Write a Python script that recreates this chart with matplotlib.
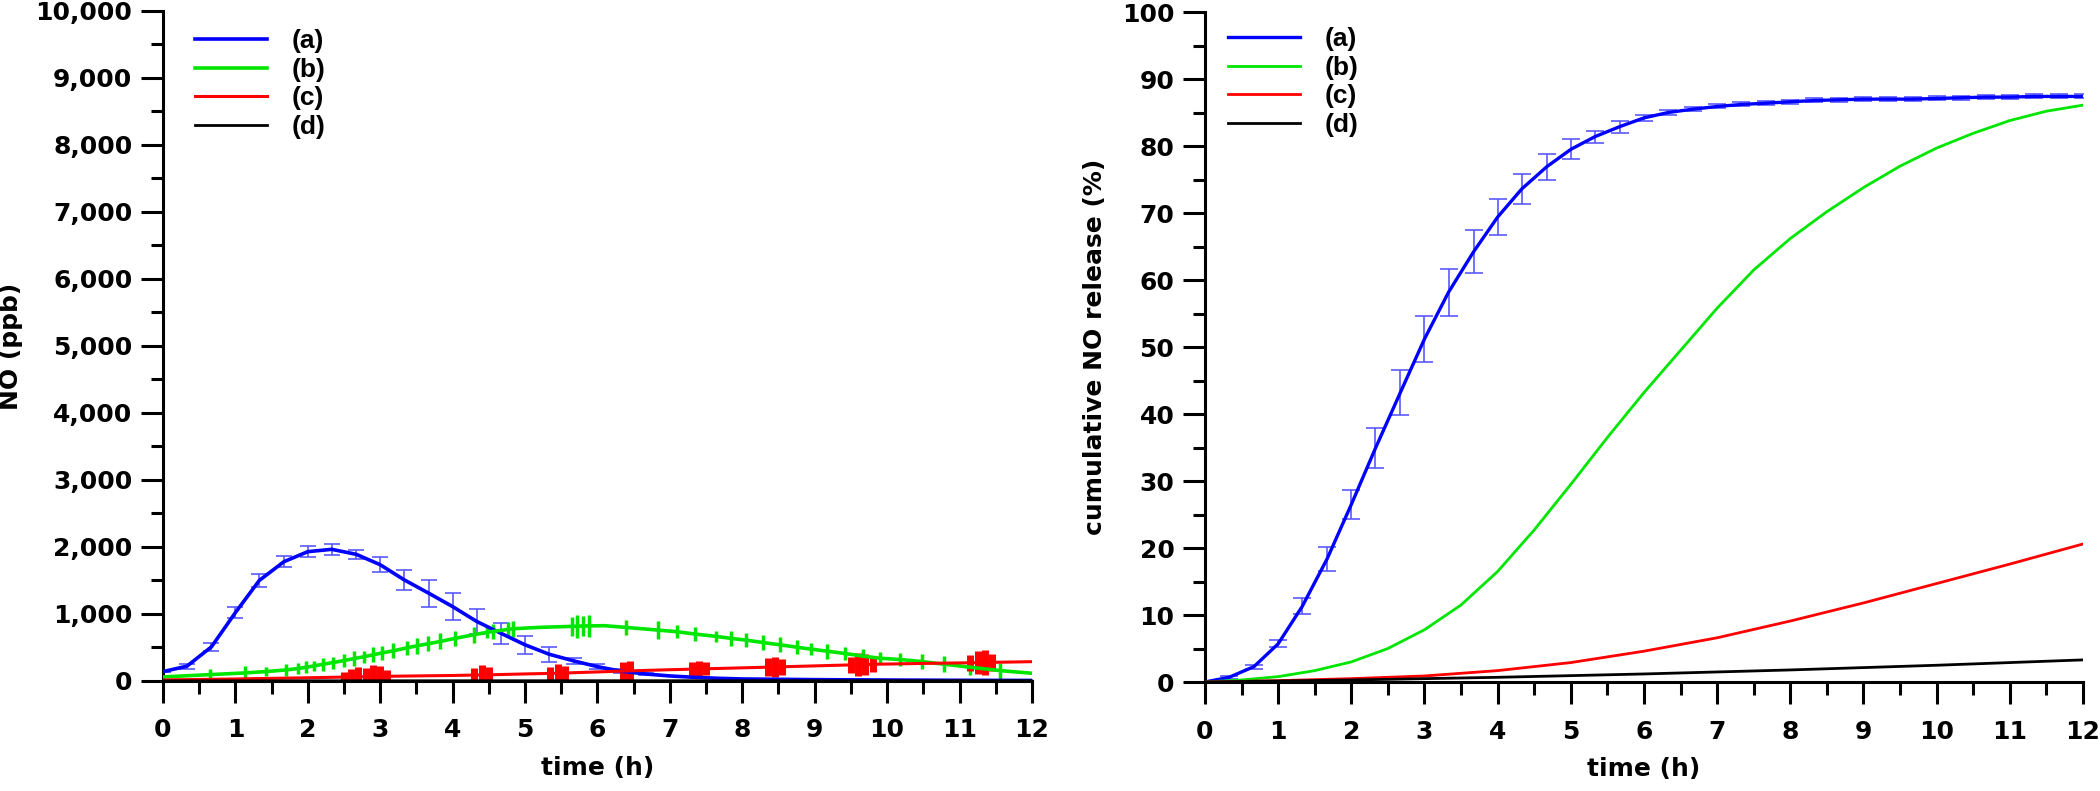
import matplotlib
matplotlib.use('Agg')
import matplotlib.pyplot as plt
from matplotlib.ticker import MultipleLocator, StrMethodFormatter

plt.rcParams['font.family'] = ['DejaVu Sans']
plt.rcParams['font.weight'] = 'bold'

# ---- left panel: NO (ppb) ----
blue_t = [0, 0.33, 0.67, 1.0, 1.33, 1.67, 2.0, 2.33, 2.67, 3.0, 3.33, 3.67, 4.0, 4.33,
          4.67, 5.0, 5.33, 5.67, 6.0, 6.33, 6.67, 7.0, 7.33, 7.67, 8.0, 9.0, 10.0, 11.0, 12.0]
blue_no = [140, 220, 510, 1020, 1500, 1780, 1930, 1965, 1890, 1735, 1510, 1310, 1110, 890,
           710, 540, 400, 300, 214, 145, 104, 75, 55, 40, 30, 20, 14, 10, 8]
blue_no_err = [0, 40, 60, 85, 90, 85, 80, 80, 70, 110, 150, 200, 200, 185,
               160, 135, 110, 50, 40, 30, 15, 0, 0, 0, 0, 0, 0, 0, 0]

green_t = [0, 0.65, 1.13, 1.42, 1.70, 1.86, 1.98, 2.09, 2.21, 2.35, 2.5, 2.64, 2.77, 2.9,
           3.03, 3.18, 3.37, 3.51, 3.66, 3.83, 4.03, 4.29, 4.47, 4.56, 4.77, 4.84, 5.2,
           5.65, 5.72, 5.8, 5.88, 6.1, 6.39, 6.83, 7.1, 7.35, 7.64, 7.85, 8.05, 8.28, 8.52,
           8.75, 8.95, 9.17, 9.42, 9.67, 9.9, 10.18, 10.48, 10.79, 11.15, 11.56, 12.0]
green_no = [60, 95, 120, 140, 165, 185, 205, 225, 250, 275, 305, 335, 360, 390,
            420, 450, 495, 525, 555, 590, 635, 690, 725, 740, 770, 780, 800,
            815, 818, 820, 822, 825, 800, 760, 735, 700, 665, 635, 610, 575, 540,
            505, 475, 445, 410, 370, 340, 320, 290, 250, 205, 155, 115]
green_no_err = [0, 90, 100, 70, 90, 80, 90, 80, 100, 90, 100, 110, 90, 110,
                100, 110, 100, 120, 110, 120, 110, 120, 90, 110, 110, 120, 0,
                140, 170, 150, 170, 0, 110, 130, 100, 110, 80, 110, 100, 110, 110,
                100, 90, 110, 100, 110, 90, 100, 110, 120, 110, 120, 0]

red_t = [0, 1, 2, 2.5, 2.6, 2.7, 2.8, 2.9, 3.0, 3.1, 4.0, 4.3, 4.4, 4.5, 5.0, 5.35, 5.45,
         5.55, 6.0, 6.35, 6.45, 7.0, 7.3, 7.4, 7.5, 8.0, 8.35, 8.45, 8.55, 9.0, 9.5, 9.6,
         9.7, 9.8, 10.5, 11.15, 11.25, 11.35, 11.45, 12.0]
red_no = [15, 30, 48, 58, 60, 62, 64, 66, 68, 70, 82, 88, 90, 92, 105, 113, 116,
          119, 135, 148, 151, 168, 176, 179, 182, 196, 206, 209, 212, 225, 240, 243,
          246, 249, 262, 272, 274, 276, 278, 288]
red_no_err = [0, 0, 0, 80, 120, 150, 130, 170, 150, 90, 0, 110, 150, 120, 0, 100, 130,
              110, 0, 130, 140, 0, 100, 120, 100, 0, 130, 155, 120, 0, 120, 170,
              160, 110, 0, 120, 170, 190, 130, 0]

black_t = [0, 4, 8, 12]
black_no = [2, 3, 4, 5]

# ---- right panel: cumulative NO release (%) ----
cum_t = [0, 0.33, 0.67, 1.0, 1.33, 1.67, 2.0, 2.33, 2.67, 3.0, 3.33, 3.67, 4.0, 4.33,
         4.67, 5.0, 5.33, 5.67, 6.0, 6.33, 6.67, 7.0, 7.33, 7.67, 8.0, 8.33, 8.67, 9.0,
         9.33, 9.67, 10.0, 10.33, 10.67, 11.0, 11.33, 11.67, 12.0]
blue_cum = [0, 0.7, 2.3, 5.7, 11.3, 18.4, 26.5, 34.9, 43.2, 51.2, 58.2, 64.2, 69.4, 73.6,
            76.9, 79.5, 81.4, 82.9, 84.2, 85.0, 85.5, 85.9, 86.2, 86.4, 86.6, 86.8, 86.9, 87.0,
            87.0, 87.0, 87.1, 87.2, 87.3, 87.3, 87.4, 87.4, 87.4]
blue_cum_err = [0, 0.2, 0.3, 0.5, 1.2, 1.8, 2.2, 3.0, 3.3, 3.4, 3.5, 3.2, 2.7, 2.2,
                1.9, 1.5, 0.9, 0.9, 0.4, 0.4, 0.3, 0.3, 0.3, 0.3, 0.3, 0.3, 0.3, 0.3,
                0.3, 0.3, 0.3, 0.3, 0.3, 0.3, 0.3, 0.3, 0.3]

green_cum_t = [0, 0.5, 1, 1.5, 2, 2.5, 3, 3.5, 4, 4.5, 5, 5.5, 6, 6.5, 7, 7.5, 8, 8.5,
               9, 9.5, 10, 10.5, 11, 11.5, 12]
green_cum = [0, 0.3, 0.8, 1.7, 3.0, 5.0, 7.8, 11.5, 16.5, 22.7, 29.5, 36.5, 43.2, 49.5,
             55.8, 61.5, 66.2, 70.2, 73.8, 77.0, 79.7, 81.9, 83.8, 85.2, 86.1]

slow_t = [0, 1, 2, 3, 4, 5, 6, 7, 8, 9, 10, 11, 12]
red_cum = [0, 0.2, 0.5, 0.9, 1.7, 2.9, 4.6, 6.6, 9.1, 11.8, 14.7, 17.6, 20.6]
black_cum = [0, 0.15, 0.3, 0.5, 0.7, 0.95, 1.2, 1.5, 1.8, 2.15, 2.5, 2.9, 3.3]

labels = ['(a)', '(b)', '(c)', '(d)']
c_blue = '#0000ff'
c_green = '#00e600'
c_red = '#ff0000'
c_err = '#5a5aff'

fig = plt.figure(figsize=(21, 7.91), dpi=100)
ax1 = fig.add_axes([0.0776, 0.1391, 0.4138, 0.8470])
ax2 = fig.add_axes([0.5738, 0.1378, 0.4181, 0.8470])

# left
ax1.errorbar(blue_t, blue_no, yerr=blue_no_err, fmt='none', ecolor=c_err,
             elinewidth=1.2, capsize=6, capthick=1.2, zorder=2)
ax1.errorbar(green_t, green_no, yerr=green_no_err, fmt='none', ecolor=c_green,
             elinewidth=2.5, capsize=0, zorder=2)
ax1.errorbar(red_t, red_no, yerr=red_no_err, fmt='none', ecolor=c_red,
             elinewidth=5, capsize=0, zorder=2)
ax1.plot(blue_t, blue_no, color=c_blue, lw=2.6, label=labels[0], zorder=3)
ax1.plot(green_t, green_no, color=c_green, lw=2.6, label=labels[1], zorder=3)
ax1.plot(red_t, red_no, color=c_red, lw=2.2, label=labels[2], zorder=3)
ax1.plot(black_t, black_no, color='black', lw=2.0, label=labels[3], zorder=3)

ax1.set_xlim(0, 12)
ax1.set_ylim(0, 10000)
ax1.yaxis.set_major_locator(MultipleLocator(1000))
ax1.yaxis.set_minor_locator(MultipleLocator(500))
ax1.yaxis.set_major_formatter(StrMethodFormatter('{x:,.0f}'))
ax1.set_ylabel('NO (ppb)', fontsize=18, fontweight='bold', labelpad=9)

# right
ax2.errorbar(cum_t, blue_cum, yerr=blue_cum_err, fmt='none', ecolor=c_err,
             elinewidth=1.2, capsize=6.5, capthick=1.2, zorder=2)
ax2.plot(cum_t, blue_cum, color=c_blue, lw=2.4, label=labels[0], zorder=3)
ax2.plot(green_cum_t, green_cum, color=c_green, lw=2.0, label=labels[1], zorder=3)
ax2.plot(slow_t, red_cum, color=c_red, lw=2.0, label=labels[2], zorder=3)
ax2.plot(slow_t, black_cum, color='black', lw=2.0, label=labels[3], zorder=3)

ax2.set_xlim(0, 12)
ax2.set_ylim(0, 100)
ax2.yaxis.set_major_locator(MultipleLocator(10))
ax2.yaxis.set_minor_locator(MultipleLocator(5))
ax2.set_ylabel('cumulative NO release (%)', fontsize=18, fontweight='bold', labelpad=11)

for ax, anchor in [(ax1, (0.0368, 0.9727)), (ax2, (0.0262, 0.9772))]:
    ax.xaxis.set_major_locator(MultipleLocator(1))
    ax.xaxis.set_minor_locator(MultipleLocator(0.5))
    ax.set_xlabel('time (h)', fontsize=18, fontweight='bold', labelpad=10)
    ax.spines['top'].set_visible(False)
    ax.spines['right'].set_visible(False)
    ax.spines['left'].set_linewidth(2.2)
    ax.spines['bottom'].set_linewidth(2.2)
    ax.tick_params(which='major', direction='out', length=16, width=2.2,
                   labelsize=18, pad=6)
    ax.tick_params(which='minor', direction='out', length=9, width=2.2)
    ax.tick_params(axis='x', which='major', pad=11)
    for lab in ax.get_xticklabels() + ax.get_yticklabels():
        lab.set_fontweight('bold')
    ax.legend(loc='upper left', bbox_to_anchor=anchor, frameon=False,
              handlelength=2.73, handletextpad=0.95, labelspacing=0.17,
              borderpad=0, borderaxespad=0,
              prop={'family': 'Liberation Sans', 'weight': 'bold', 'size': 19})

fig.savefig('out.png', dpi=100)
